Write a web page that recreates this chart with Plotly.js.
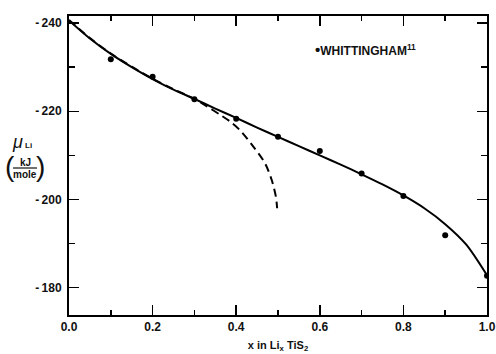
<!DOCTYPE html>
<html><head><meta charset="utf-8">
<script src="https://cdn.plot.ly/plotly-3.0.1.min.js"></script>
<style>html,body{margin:0;padding:0;background:#fff}#chart{width:496px;height:354px}</style>
</head><body><div id="chart"></div>
<script>
// Whittingham data points
const dataX = [0.1, 0.2, 0.3, 0.4, 0.5, 0.6, 0.7, 0.8, 0.9, 1.0];
const dataY = [-231.8, -227.8, -222.7, -218.3, -214.2, -211.0, -205.9, -200.8, -191.9, -182.7];
// solid curve
const solidX = [0, 0.05, 0.1, 0.15, 0.2, 0.25, 0.3, 0.35, 0.4, 0.45, 0.5, 0.55, 0.6, 0.65, 0.7, 0.75, 0.8, 0.85, 0.9, 0.95, 1.0];
const solidY = [-240.6, -236.5, -233.0, -230.0, -227.3, -224.9, -222.8, -220.6, -218.5, -216.3, -214.2, -212.1, -210.0, -207.9, -205.7, -203.4, -200.9, -198.0, -194.4, -189.8, -182.8];
// dashed curve
const dashX = [0, 0.05, 0.1, 0.15, 0.2, 0.25, 0.3, 0.33, 0.36, 0.385, 0.409, 0.441, 0.469, 0.485, 0.495, 0.498];
const dashY = [-240.7, -236.6, -233.1, -230.1, -227.4, -225.0, -222.8, -221.1, -219.3, -217.7, -215.7, -212.0, -208.2, -204.4, -200.6, -198.0];
// ticks
const xTickVals = [0, 0.2, 0.4, 0.6, 0.8, 1.0];
const xTickText = ['0.0', '0.2', '0.4', '0.6', '0.8', '1.0'];
const xMinorVals = [0.1, 0.3, 0.5, 0.7, 0.9];
const yTickVals = [-240, -220, -200, -180];
const yTickText = ['-\u2009240', '-\u2009220', '-\u2009200', '-\u2009180'];
const yMinorVals = [-230, -210, -190];

const L = 69, T = 16, W = 418, H = 299;
const px = x => (x - L) / W;
const py = y => (T + H - y) / H;

const tickFont = {family: 'Liberation Sans', size: 12, color: '#111', weight: 'bold'};

const traces = [
  {x: solidX, y: solidY, mode: 'lines', line: {color: '#000', width: 2, shape: 'spline', smoothing: 0.8}, hoverinfo: 'skip', showlegend: false},
  {x: dashX, y: dashY, mode: 'lines', line: {color: '#000', width: 2, shape: 'spline', smoothing: 0.8, dash: '8px,5px'}, hoverinfo: 'skip', showlegend: false},
  {x: dataX, y: dataY, mode: 'markers', marker: {color: '#000', size: 6}, name: 'WHITTINGHAM', showlegend: false}
];

const layout = {
  width: 496, height: 354,
  margin: {l: L, r: 496 - L - W, t: T, b: 354 - T - H, pad: 0},
  paper_bgcolor: '#fff', plot_bgcolor: '#fff',
  showlegend: false,
  xaxis: {
    range: [0, 1], tickmode: 'array', tickvals: xTickVals, ticktext: xTickText,
    ticks: 'inside', ticklen: 10, tickwidth: 1.5, tickcolor: '#000',
    minor: {tickmode: 'array', tickvals: xMinorVals, ticks: 'inside', ticklen: 5, tickwidth: 1.5, tickcolor: '#000'},
    showline: true, linecolor: '#000', linewidth: 2, mirror: 'ticks',
    showgrid: false, zeroline: false, tickfont: tickFont,
    title: {text: 'x in Li<sub>x</sub> TiS<sub>2</sub>', font: {family: 'Liberation Sans', size: 11, color: '#111', weight: 'bold'}, standoff: 8}
  },
  yaxis: {
    range: [-173.8, -241.6], tickmode: 'array', tickvals: yTickVals, ticktext: yTickText,
    ticks: 'inside', ticklen: 10, tickwidth: 1.5, tickcolor: '#000',
    minor: {tickmode: 'array', tickvals: yMinorVals, ticks: 'inside', ticklen: 6, tickwidth: 1.5, tickcolor: '#000'},
    showline: true, linecolor: '#000', linewidth: 2, mirror: 'ticks',
    showgrid: false, zeroline: false, tickfont: tickFont, ticklabelstandoff: 3
  },
  annotations: [
    {xref: 'paper', yref: 'paper', x: px(313), y: py(49.5), xanchor: 'left', yanchor: 'middle', showarrow: false,
     text: '<span style="font-size:15px">•</span>WHITTINGHAM<sup>11</sup>', font: {family: 'Liberation Sans', size: 12, color: '#111', weight: 'bold'}},
    {xref: 'paper', yref: 'paper', x: px(17), y: py(142), xanchor: 'center', yanchor: 'middle', showarrow: false,
     text: '<i>μ</i>', font: {family: 'Liberation Sans', size: 18, color: '#111'}},
    {xref: 'paper', yref: 'paper', x: px(28), y: py(145), xanchor: 'center', yanchor: 'middle', showarrow: false,
     text: 'Li', font: {family: 'Liberation Sans', size: 8, color: '#111', weight: 'bold'}},
    {xref: 'paper', yref: 'paper', x: px(10), y: py(166), xanchor: 'center', yanchor: 'middle', showarrow: false,
     text: '(', font: {family: 'Liberation Sans', size: 28, color: '#111'}},
    {xref: 'paper', yref: 'paper', x: px(40), y: py(166), xanchor: 'center', yanchor: 'middle', showarrow: false,
     text: ')', font: {family: 'Liberation Sans', size: 28, color: '#111'}},
    {xref: 'paper', yref: 'paper', x: px(25), y: py(162), xanchor: 'center', yanchor: 'middle', showarrow: false,
     text: 'kJ', font: {family: 'Liberation Sans', size: 10, color: '#111', weight: 'bold'}},
    {xref: 'paper', yref: 'paper', x: px(24.5), y: py(174.5), xanchor: 'center', yanchor: 'middle', showarrow: false,
     text: 'mole', font: {family: 'Liberation Sans', size: 10, color: '#111', weight: 'bold'}}
  ],
  shapes: [
    {type: 'line', xref: 'paper', yref: 'paper', x0: px(13), x1: px(37), y0: py(168), y1: py(168), line: {color: '#111', width: 1.2}}
  ]
};

Plotly.newPlot('chart', traces, layout, {staticPlot: true, displayModeBar: false});
</script></body></html>
